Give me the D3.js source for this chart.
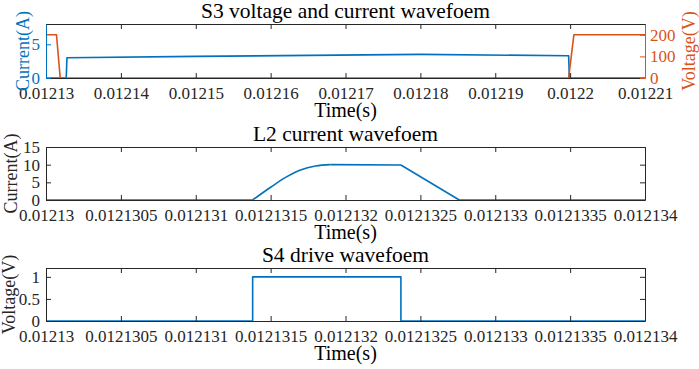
<!DOCTYPE html>
<html>
<head>
<meta charset="utf-8">
<script src="https://cdn.jsdelivr.net/npm/d3@7"></script>
<style>
  html, body { margin: 0; padding: 0; background: #fff; }
  svg { display: block; }
  svg text { font-family: "Liberation Serif", "Times New Roman", serif; }
</style>
</head>
<body>
<div id="view"></div>
<script>
// ---- data ----
// panel 1: S3 voltage and current
const P1_TICKS  = [0.01213, 0.01214, 0.01215, 0.01216, 0.01217, 0.01218, 0.01219, 0.0122, 0.01221];
const P1_LABELS = ["0.01213", "0.01214", "0.01215", "0.01216", "0.01217", "0.01218", "0.01219", "0.0122", "0.01221"];
const S3_I_T = [0.01213, 0.0121327, 0.0121328, 0.01215, 0.01218, 0.0121998, 0.0121999, 0.01221];
const S3_I   = [0, 0, 3.0, 3.2, 3.5, 3.3, 0, 0];
const S3_V_T = [0.01213, 0.0121314, 0.0121319, 0.0121998, 0.0122005, 0.01221];
const S3_V   = [200, 200, 0, 0, 200, 200];
const P1_IL_TICKS = [0, 5];
const P1_VR_TICKS = [0, 100, 200];

// panels 2, 3: shared time axis
const P2_TICKS  = [0.01213, 0.0121305, 0.012131, 0.0121315, 0.012132, 0.0121325, 0.012133, 0.0121335, 0.012134];
const P2_LABELS = ["0.01213", "0.0121305", "0.012131", "0.0121315", "0.012132", "0.0121325", "0.012133", "0.0121335", "0.012134"];

// L2 current: resonant rise (smooth), then flat top and linear fall
const L2_RISE_T = [0.01213138, 0.0121315, 0.0121316, 0.0121317, 0.0121318, 0.0121319];
const L2_RISE_I = [0, 3.6, 6.4, 8.5, 9.6, 10];
const L2_REST_T = [0.0121319, 0.01213237, 0.01213276, 0.012134];
const L2_REST_I = [10, 9.9, 0, 0];
const L2_PRE_T  = [0.01213, 0.01213138];
const L2_PRE_I  = [0, 0];
const P2_Y_TICKS = [0, 5, 10, 15];

// S4 drive
const S4_T = [0.01213, 0.01213138, 0.01213138, 0.01213237, 0.01213237, 0.012134];
const S4_V = [0, 0, 1, 1, 0, 0];
const P3_Y_TICKS = [0, 0.5, 1];

const BLUE = "#0072BD", ORANGE = "#D95319", DARK = "#262626";
const FONT = '"Liberation Serif", "Times New Roman", serif';

// ---- layout ----
const W = 699, H = 369;
const X0 = 46, X1 = 645;
const svg = d3.select("#view").append("svg").attr("width", W).attr("height", H);

function styleAxis(sel, color, size) {
  sel.attr("font-family", FONT);
  sel.select(".domain").attr("stroke", color);
  sel.selectAll(".tick line").attr("stroke", color);
  sel.selectAll("text").attr("fill", color).style("font-size", size + "px");
}

function panel(opt) {
  const g = svg.append("g");
  const x = d3.scaleLinear().domain(opt.xDomain).range([X0, X1]);
  const y = d3.scaleLinear().domain(opt.yDomain).range([opt.bottom, opt.top]);

  opt.series.forEach(s => {
    const yy = s.yScale || y;
    const gen = d3.line().x((d, i) => x(s.t[i])).y(d => yy(d));
    if (s.smooth) gen.curve(d3.curveMonotoneX);
    g.append("path")
      .attr("d", gen(s.v))
      .attr("fill", "none")
      .attr("stroke", s.color)
      .attr("stroke-width", 1.6)
      .attr("stroke-linejoin", "round");
  });

  // bottom axis
  g.append("g").attr("transform", `translate(0,${opt.bottom})`)
    .call(d3.axisBottom(x).tickValues(opt.xTicks)
      .tickFormat((d, i) => opt.xLabels[i])
      .tickSizeInner(-5).tickSizeOuter(0).tickPadding(9))
    .call(styleAxis, DARK, 17);

  // top axis (ticks only)
  g.append("g").attr("transform", `translate(0,${opt.top})`)
    .call(d3.axisTop(x).tickValues(opt.xTicks).tickFormat("")
      .tickSizeInner(-5).tickSizeOuter(0))
    .call(styleAxis, DARK, 17);

  // left axis
  const lc = opt.leftColor || DARK;
  g.append("g").attr("transform", `translate(${X0},0)`)
    .call(d3.axisLeft(y).tickValues(opt.yTicks).tickFormat(d3.format(""))
      .tickSizeInner(-5).tickSizeOuter(0).tickPadding(6))
    .call(styleAxis, lc, 17);

  // right axis
  if (opt.right) {
    g.append("g").attr("transform", `translate(${X1},0)`)
      .call(d3.axisRight(opt.right.scale).tickValues(opt.right.ticks)
        .tickSizeInner(-5).tickSizeOuter(0).tickPadding(5))
      .call(styleAxis, ORANGE, 17);
    g.append("text")
      .attr("transform", `translate(${opt.right.labelX},${(opt.top + opt.bottom) / 2}) rotate(-90)`)
      .attr("text-anchor", "middle")
      .attr("fill", ORANGE)
      .style("font-size", "18px")
      .text(opt.right.label);
  } else {
    g.append("g").attr("transform", `translate(${X1},0)`)
      .call(d3.axisRight(y).tickValues(opt.yTicks).tickFormat("")
        .tickSizeInner(-5).tickSizeOuter(0))
      .call(styleAxis, DARK, 17);
  }

  // title + labels
  g.append("text")
    .attr("x", (X0 + X1) / 2).attr("y", opt.top - 6)
    .attr("text-anchor", "middle").attr("fill", "#000")
    .style("font-size", "21.5px")
    .text(opt.title);
  g.append("text")
    .attr("x", (X0 + X1) / 2).attr("y", opt.bottom + 39)
    .attr("text-anchor", "middle").attr("fill", "#000")
    .style("font-size", "20px")
    .text("Time(s)");
  g.append("text")
    .attr("transform", `translate(${opt.yLabelX},${(opt.top + opt.bottom) / 2}) rotate(-90)`)
    .attr("text-anchor", "middle")
    .attr("fill", lc)
    .style("font-size", "18px")
    .text(opt.yLabel);
}

// panel 1 — voltage on its own right-hand scale 0..250
const vScale = d3.scaleLinear().domain([0, 250]).range([78, 24]);
panel({
  top: 24, bottom: 78,
  xDomain: [0.01213, 0.01221], xTicks: P1_TICKS, xLabels: P1_LABELS,
  yDomain: [0, 8], yTicks: P1_IL_TICKS,
  leftColor: BLUE,
  title: "S3 voltage and current wavefoem",
  yLabel: "Current(A)", yLabelX: 29,
  right: { scale: vScale, ticks: P1_VR_TICKS, label: "Voltage(V)", labelX: 695 },
  series: [
    { t: S3_I_T, v: S3_I, color: BLUE },
    { t: S3_V_T, v: S3_V, color: ORANGE, yScale: vScale }
  ]
});

// panel 2
panel({
  top: 147, bottom: 200,
  xDomain: [0.01213, 0.012134], xTicks: P2_TICKS, xLabels: P2_LABELS,
  yDomain: [0, 15], yTicks: P2_Y_TICKS,
  title: "L2 current wavefoem",
  yLabel: "Current(A)", yLabelX: 17,
  series: [
    { t: L2_PRE_T, v: L2_PRE_I, color: BLUE },
    { t: L2_RISE_T, v: L2_RISE_I, color: BLUE, smooth: true },
    { t: L2_REST_T, v: L2_REST_I, color: BLUE }
  ]
});

// panel 3
panel({
  top: 268, bottom: 321,
  xDomain: [0.01213, 0.012134], xTicks: P2_TICKS, xLabels: P2_LABELS,
  yDomain: [0, 1.2], yTicks: P3_Y_TICKS,
  title: "S4 drive wavefoem",
  yLabel: "Voltage(V)", yLabelX: 15,
  series: [{ t: S4_T, v: S4_V, color: BLUE }]
});
</script>
</body>
</html>
